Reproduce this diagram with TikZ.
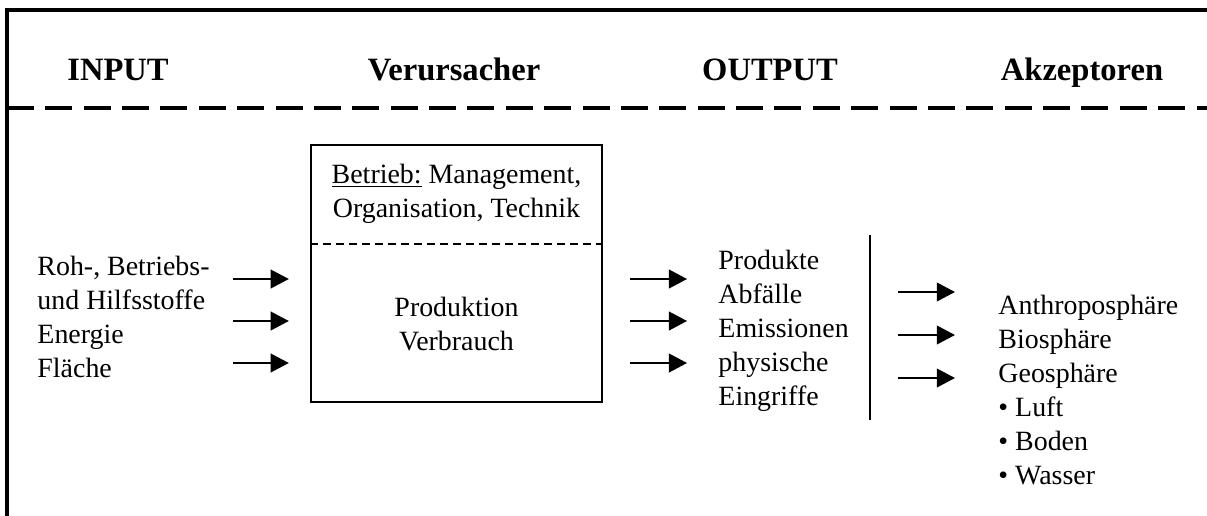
\documentclass[tikz,border=0pt]{standalone}
\usepackage{fontspec}
\setmainfont{Liberation Serif}
\usetikzlibrary{arrows.meta,positioning}
\definecolor{ink}{HTML}{000000}
\tikzset{
  every node/.style={font=\fontsize{12}{14.6}\selectfont, text=ink, inner sep=0pt},
  head/.style={font=\fontsize{14}{17}\selectfont\bfseries, anchor=base},
  txt/.style={align=left, anchor=base west},
  ctxt/.style={align=center, anchor=base},
  box/.style={draw=ink, line width=1.1pt, minimum width=125.1pt, minimum height=110.5pt},
  frame/.style={draw=ink, line width=1.3pt},
  hdash/.style={draw=ink, line width=1.3pt, dash pattern=on 11.6pt off 4.9pt},
  bdash/.style={draw=ink, line width=0.9pt, dash pattern=on 3.4pt off 2.2pt},
  arr/.style={-{Triangle[length=7.8pt, width=8pt]}, line width=0.9pt, draw=ink},
  sepline/.style={draw=ink, line width=0.9pt},
}
\begin{document}
\begin{tikzpicture}[x=0.43pt, y=-0.43pt]
\useasboundingbox (0,0) rectangle (1207,515);

% --- frame and header row ---
\draw[frame] (7,520) -- (7,10) -- (1212,10);
\node[head] (hin)  at (118,80)  {INPUT};
\node[head] (hver) at (454,80)  {Verursacher};
\node[head] (hout) at (770,80)  {OUTPUT};
\node[head] (hakz) at (1082,80) {Akzeptoren};
\draw[hdash] (7,108) -- (1212,108);

% --- Verursacher box ---
\node[box] (betrieb) at (456.5,273.5) {};
\draw[bdash] (betrieb.west |- 0,244) -- (betrieb.east |- 0,244);
\node[ctxt] (mgmt) at (456.5,217) {\underline{Betrieb:} Management,\\Organisation, Technik};
\node[ctxt] (prod) at (456.5,350) {Produktion\\Verbrauch};

% --- input ---
\node[txt] (input) at (37,377) {Roh-, Betriebs-\\und Hilfsstoffe\\Energie\\Fläche};
\foreach \i/\y in {1/279,2/321,3/363} {
  \coordinate (in\i) at (233,\y);
  \draw[arr, shorten >=9pt] (in\i) -- (betrieb.west |- in\i);
}

% --- output ---
\node[txt] (output) at (718,405) {Produkte\\Abfälle\\Emissionen\\physische\\Eingriffe};
\foreach \i/\y in {1/279,2/321,3/363} {
  \coordinate (out\i) at (0,\y);
  \draw[arr, shorten <=11.6pt, shorten >=13.3pt] (betrieb.east |- out\i) -- (output.west |- out\i);
}
\coordinate (septop) at (870,235);
\coordinate (sepbot) at (870,420);
\draw[sepline] (septop) -- (sepbot);

% --- Akzeptoren ---
\node[txt] (akz) at (998,484) {Anthroposphäre\\Biosphäre\\Geosphäre\\\textbullet\ Luft\\\textbullet\ Boden\\\textbullet\ Wasser};
\foreach \i/\y in {1/292,2/335,3/378} {
  \coordinate (acc\i) at (0,\y);
  \draw[arr, shorten <=12pt, shorten >=18.5pt] (septop |- acc\i) -- (akz.west |- acc\i);
}

\end{tikzpicture}
\end{document}
